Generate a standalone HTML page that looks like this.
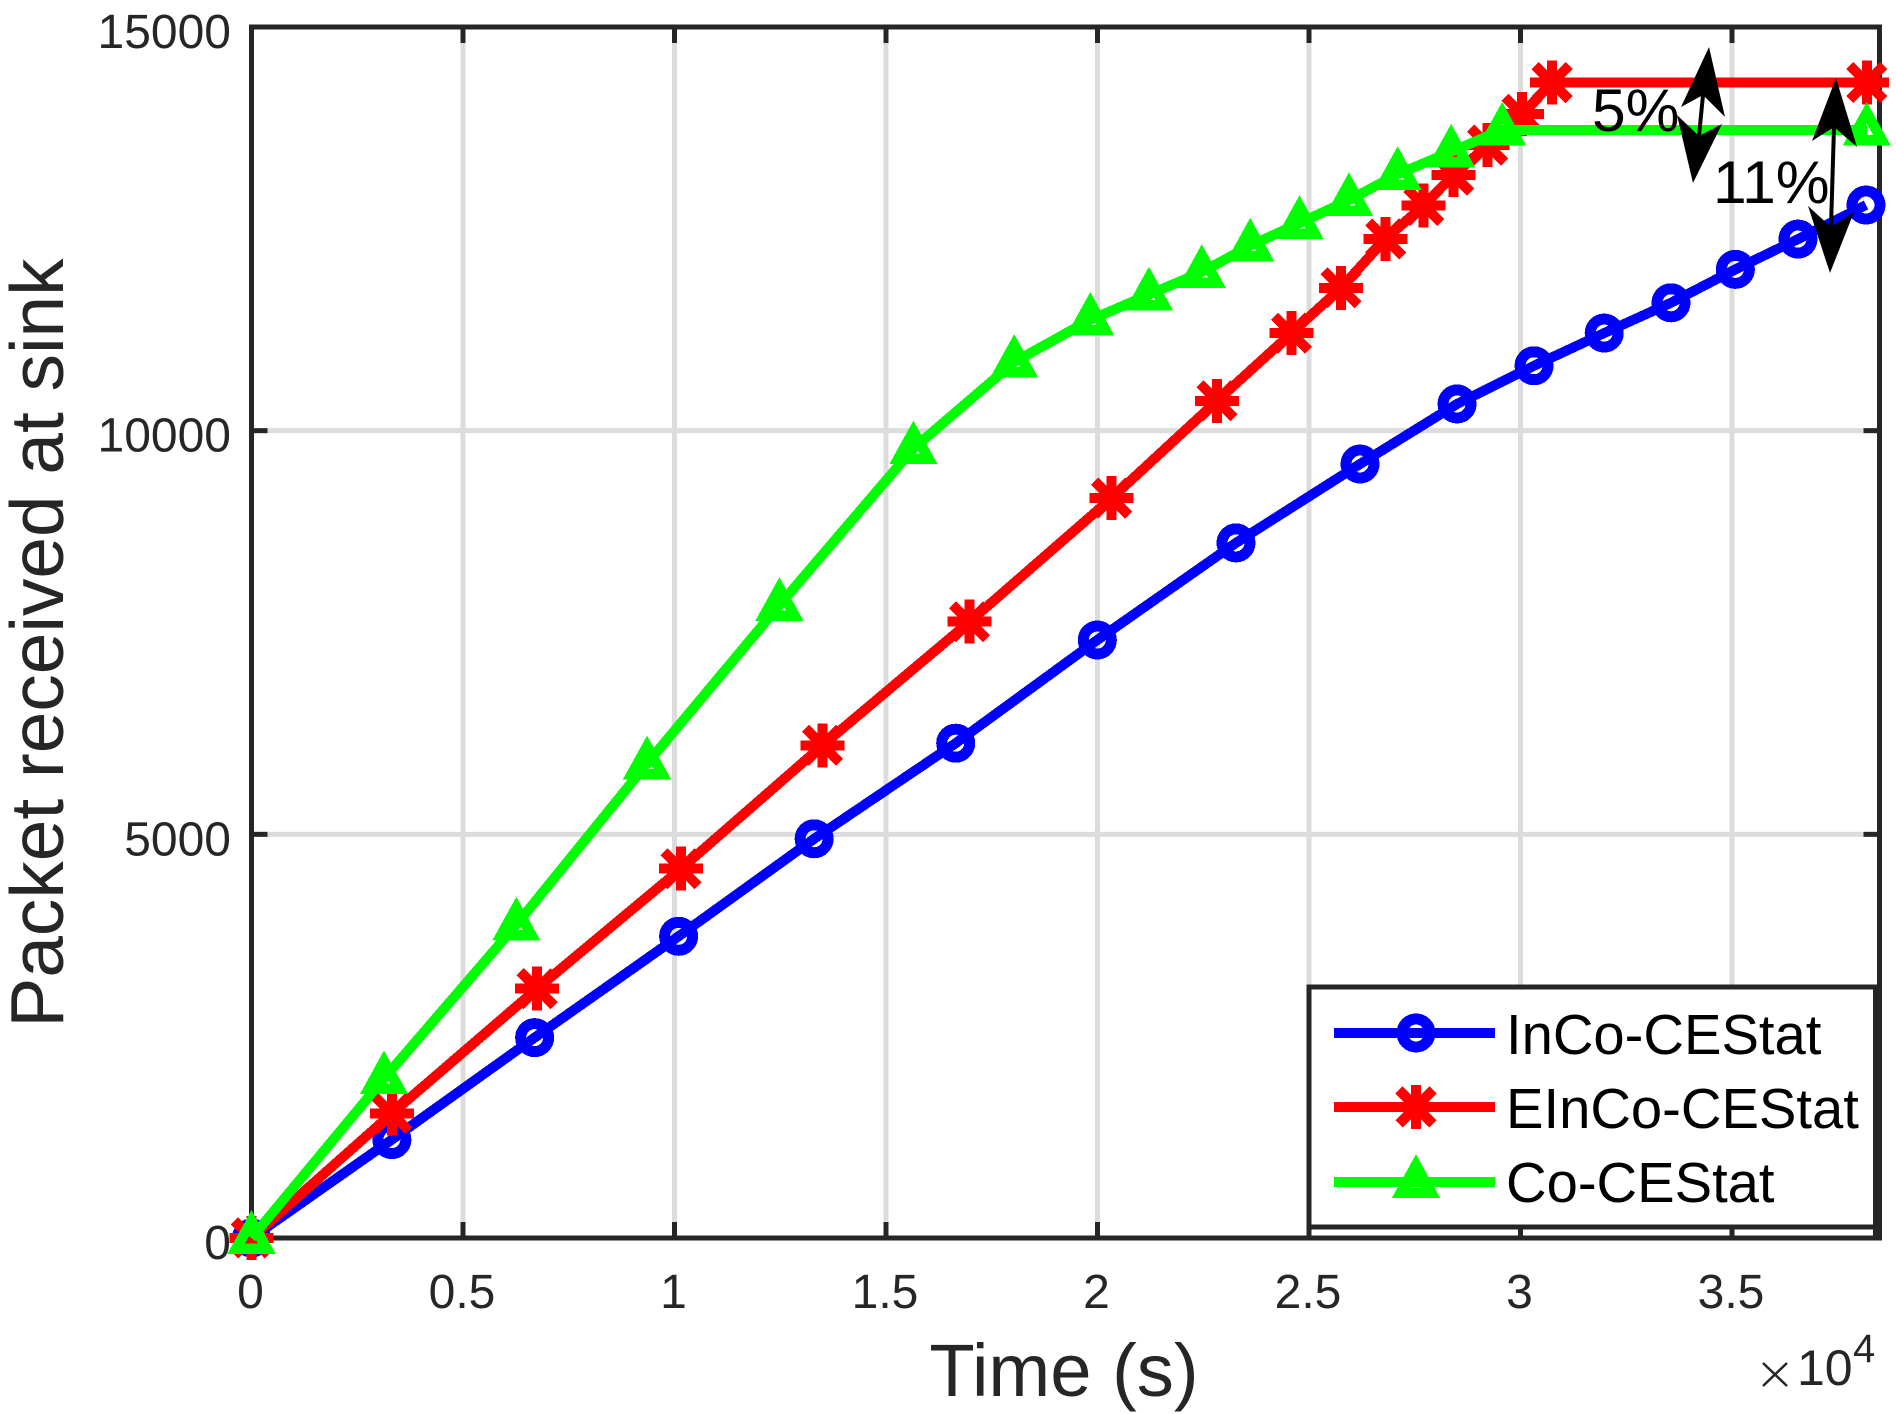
<!DOCTYPE html>
<html lang="en">
<head>
<meta charset="utf-8">
<title>Packet received at sink over time</title>
<style>
html,body{margin:0;padding:0;background:#fff;}
svg{display:block;}
text{font-family:"Liberation Sans",Arial,sans-serif;}
</style>
</head>
<body>
<svg id="chart" xmlns="http://www.w3.org/2000/svg" width="1896" height="1414" viewBox="0 0 1896 1414">
  <rect x="0" y="0" width="1896" height="1414" fill="#fff"/>
  <g id="grid"></g>
  <g id="axes"></g>
  <g id="ticklabels"></g>
  <g id="series"></g>

  <text transform="translate(63,643) rotate(-90)" text-anchor="middle" font-size="74.8" fill="#262626">Packet received at sink</text>
  <text x="1064" y="1396" text-anchor="middle" font-size="74.2" fill="#262626">Time (s)</text>
  <g fill="#262626">
    <path d="M1763,1363L1787,1386M1787,1363L1763,1386" stroke="#262626" stroke-width="2.5" fill="none"/>
    <text x="1797" y="1385" font-size="50">10</text>
    <text x="1853" y="1362" font-size="40">4</text>
  </g>

  <g id="legend">
    <rect x="1309" y="987" width="567" height="240" fill="#fff" stroke="#262626" stroke-width="5"/>
    <rect x="1873" y="987" width="8" height="251" fill="#262626"/>
    <rect x="1307" y="1227" width="4" height="11" fill="#262626"/>
    <g id="legend-keys"></g>
    <text x="1506" y="1054" font-size="56.2" fill="#000">InCo-CEStat</text>
    <text x="1506" y="1128" font-size="56.2" fill="#000">EInCo-CEStat</text>
    <text x="1506" y="1202" font-size="56.2" fill="#000">Co-CEStat</text>
  </g>

  <g>
    <text x="1592" y="131" font-size="60.5" fill="#000">5%</text>
    <line x1="1703" y1="95" x2="1699" y2="136" stroke="#000" stroke-width="4"/>
    <polygon points="1709,47 1681,107 1703,95 1725,117" fill="#000"/>
    <polygon points="1693,183 1677,115 1699,136 1722,124" fill="#000"/>
  </g>
  <g>
    <text x="1713" y="203" font-size="60.5" fill="#000">11%</text>
    <line x1="1834" y1="127" x2="1831" y2="227" stroke="#000" stroke-width="4"/>
    <polygon points="1836,78 1812,141 1834,127 1857,147" fill="#000"/>
    <polygon points="1830,273 1808,206 1831,227 1854,212" fill="#000"/>
  </g>
</svg>

<script>
// Chart data
const xTickValues = [0, 5000, 10000, 15000, 20000, 25000, 30000, 35000];
const xTickLabels = ['0', '0.5', '1', '1.5', '2', '2.5', '3', '3.5'];
const yTickValues = [0, 5000, 10000, 15000];
const yTickLabels = ['0', '5000', '10000', '15000'];

const incoTime = [0, 3318, 6693, 10097, 13301, 16648, 19996, 23274, 26206, 28500, 30320, 31979, 33558, 35080, 36560, 38168];
const incoPackets = [0, 1219, 2482, 3737, 4945, 6129, 7407, 8610, 9587, 10331, 10804, 11209, 11584, 11998, 12373, 12795];

const eincoTime = [0, 3318, 6751, 10155, 13501, 16976, 20333, 22825, 24586, 25757, 26813, 27711, 28419, 29220, 30034, 30749, 38186];
const eincoPackets = [0, 1542, 3089, 4575, 6103, 7634, 9165, 10369, 11209, 11769, 12376, 12791, 13165, 13538, 13921, 14311, 14311];

const coTime = [0, 3132, 6260, 9350, 12480, 15648, 18030, 19830, 21215, 22465, 23610, 24775, 25945, 27095, 28360, 29565, 38186];
const coPackets = [0, 1977, 3880, 5877, 7840, 9780, 10851, 11373, 11686, 11964, 12292, 12571, 12855, 13178, 13455, 13726, 13726];

// Axis functions
const plotLeft = 251.5, plotRight = 1879.5, plotTop = 27, plotBottom = 1238;
const xMax = 38487, yMax = 15000;
function sx(t) { return plotLeft + t / xMax * (plotRight - plotLeft); }
function sy(v) { return plotBottom - v / yMax * (plotBottom - plotTop); }

const NS = 'http://www.w3.org/2000/svg';
function make(tag, parent) {
  const el = document.createElementNS(NS, tag);
  parent.appendChild(el);
  return el;
}

const dark = '#262626';
const gridG = document.getElementById('grid');
const axesG = document.getElementById('axes');
const labelG = document.getElementById('ticklabels');
const seriesG = document.getElementById('series');
const keysG = document.getElementById('legend-keys');

// Grid lines and ticks
function drawLine(parent, x1, y1, x2, y2, color, width) {
  const l = make('line', parent);
  l.setAttribute('x1', x1);
  l.setAttribute('y1', y1);
  l.setAttribute('x2', x2);
  l.setAttribute('y2', y2);
  l.setAttribute('stroke', color);
  l.setAttribute('stroke-width', width);
  return l;
}

xTickValues.forEach(function (v, i) {
  const x = sx(v);
  if (v > 0) {
    const g = drawLine(gridG, x, plotTop, x, plotBottom, '#dcdcdc', 5);
    
    
  }
  const t1 = drawLine(axesG, x, plotBottom, x, plotBottom - 16, dark, 5);
  
  
  const t2 = drawLine(axesG, x, plotTop, x, plotTop + 16, dark, 5);
  
  
  const lab = make('text', labelG);
  
  
  lab.setAttribute('x', x - 1);
  lab.setAttribute('y', 1308);
  lab.setAttribute('text-anchor', 'middle');
  lab.setAttribute('font-size', 48);
  lab.setAttribute('fill', dark);
  lab.textContent = xTickLabels[i];
});

yTickValues.forEach(function (v, i) {
  const y = sy(v);
  if (v > 0 && v < yMax) {
    const g = drawLine(gridG, plotLeft, y, plotRight, y, '#dcdcdc', 5);
    
    
  }
  const t1 = drawLine(axesG, plotLeft, y, plotLeft + 16, y, dark, 5);
  
  
  const t2 = drawLine(axesG, plotRight, y, plotRight - 16, y, dark, 5);
  
  
  const lab = make('text', labelG);
  
  
  lab.setAttribute('x', 231);
  lab.setAttribute('y', y + 21);
  lab.setAttribute('text-anchor', 'end');
  lab.setAttribute('font-size', 48);
  lab.setAttribute('fill', dark);
  lab.textContent = yTickLabels[i];
});

const frame = make('rect', axesG);


frame.setAttribute('x', plotLeft);
frame.setAttribute('y', plotTop);
frame.setAttribute('width', plotRight - plotLeft);
frame.setAttribute('height', plotBottom - plotTop);
frame.setAttribute('fill', 'none');
frame.setAttribute('stroke', dark);
frame.setAttribute('stroke-width', 5);

// Markers
function drawMarker(parent, kind, color, x, y) {
  let m;
  let w = 10;
  if (kind === 'circle') {
    m = make('circle', parent);
    m.setAttribute('cx', x);
    m.setAttribute('cy', y);
    m.setAttribute('r', 14);
    m.setAttribute('fill', 'none');
    w = 11;
  } else if (kind === 'star') {
    m = make('path', parent);
    m.setAttribute('transform', 'translate(' + x + ',' + y + ')');
    m.setAttribute('d', 'M0,-22V22M-22,0H22M-17,-17L17,17M-17,17L17,-17');
    m.setAttribute('fill', 'none');
  } else {
    m = make('path', parent);
    m.setAttribute('transform', 'translate(' + x + ',' + y + ')');
    m.setAttribute('d', 'M0,-17L15.2,10.5H-15.2Z');
    m.setAttribute('fill', 'none');
    m.setAttribute('stroke-miterlimit', 10);
    w = 10.5;
  }
  m.setAttribute('stroke', color);
  m.setAttribute('stroke-width', w);
  m.setAttribute('shape-rendering', 'crispEdges');
  return m;
}

// Series
function drawSeries(name, times, packets, color, kind) {
  const g = make('g', seriesG);
  
  
  const line = make('polyline', g);
  
  
  line.setAttribute('points', times.map(function (t, i) { return sx(t) + ',' + sy(packets[i]); }).join(' '));
  line.setAttribute('fill', 'none');
  line.setAttribute('stroke', color);
  line.setAttribute('stroke-width', 10);
  line.setAttribute('stroke-linejoin', 'round');
  line.setAttribute('shape-rendering', 'crispEdges');
  times.forEach(function (t, i) {
    const m = drawMarker(g, kind, color, sx(t), sy(packets[i]));
    
    
  });
}

drawSeries('series-inco-cestat', incoTime, incoPackets, '#0000ff', 'circle');
drawSeries('series-einco-cestat', eincoTime, eincoPackets, '#ff0000', 'star');
drawSeries('series-co-cestat', coTime, coPackets, '#00ff00', 'triangle');

// Legend keys
function drawKey(name, y, color, kind) {
  const l = drawLine(keysG, 1334, y, 1495, y, color, 10);
  
  
  const m = drawMarker(keysG, kind, color, 1416, y);
  
  
}
drawKey('legend-key-inco-cestat', 1033, '#0000ff', 'circle');
drawKey('legend-key-einco-cestat', 1107, '#ff0000', 'star');
drawKey('legend-key-co-cestat', 1182, '#00ff00', 'triangle');
</script>
</body>
</html>
